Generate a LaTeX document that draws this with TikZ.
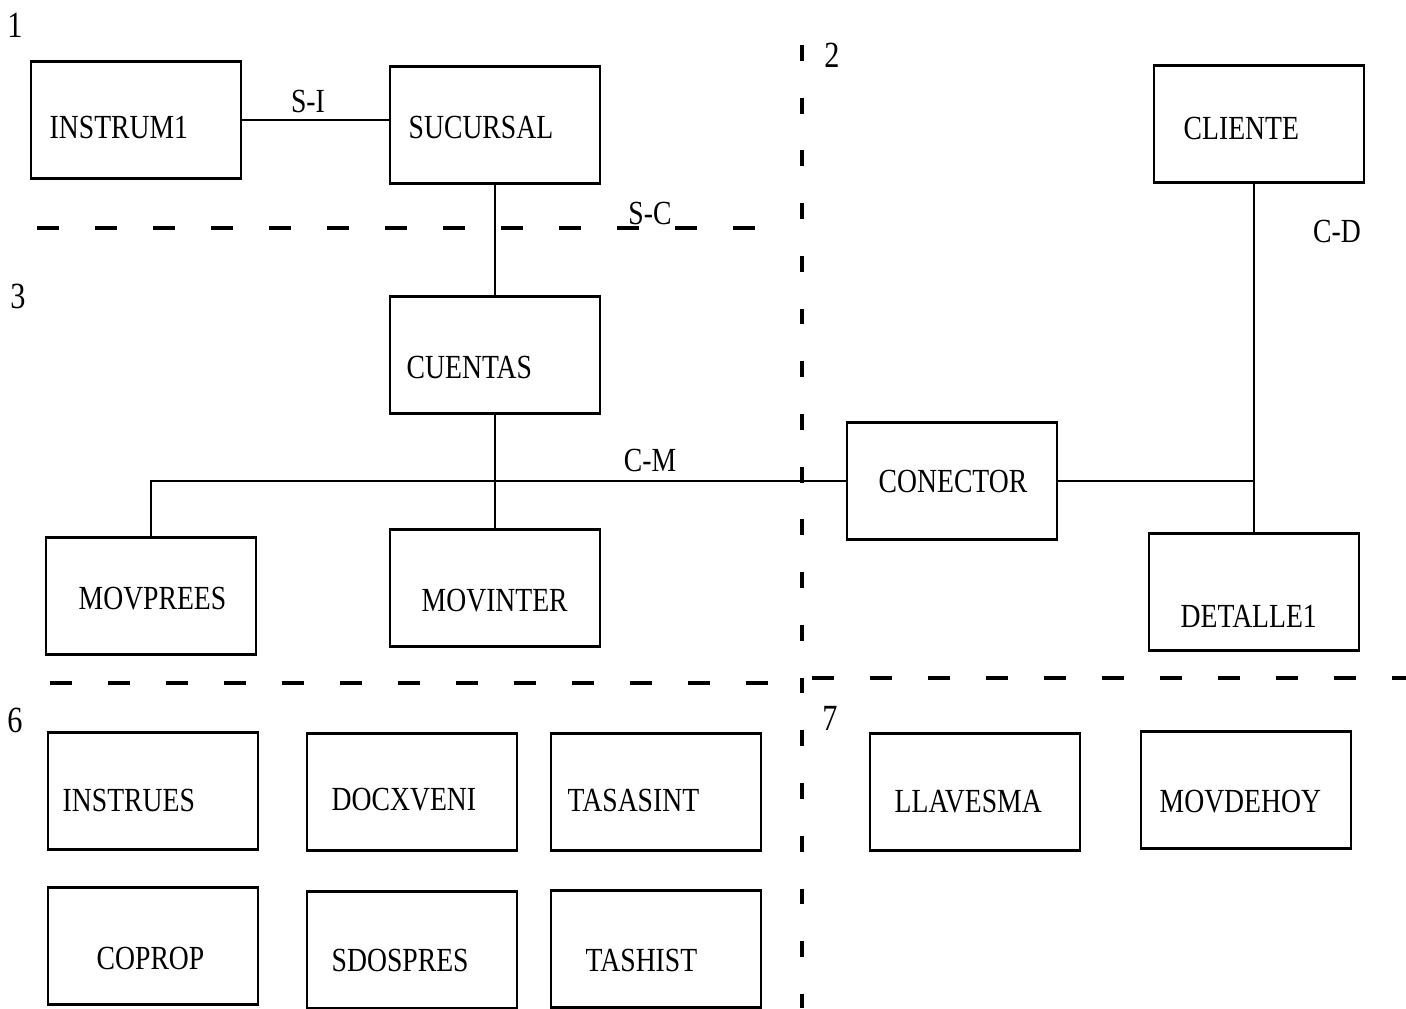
\documentclass[tikz,border=0pt]{standalone}
\usepackage{fontspec}
\setmainfont{Liberation Serif}[FakeStretch=0.82]

\begin{document}
\begin{tikzpicture}[x=0.1mm,y=-0.1mm,
  tabla/.style={draw,line width=0.8pt,minimum width=2.1cm,minimum height=1.17cm,inner sep=0pt},
  nombre/.style={anchor=west,inner sep=0pt,font=\fontsize{9.6}{11}\selectfont},
  etiq/.style={inner sep=0pt,font=\fontsize{9.6}{11}\selectfont},
  zona/.style={inner sep=0pt,font=\fontsize{10.5}{12}\selectfont},
  corte/.style={line width=0.9pt,dash pattern=on 6.3pt off 10.2pt},
  corteV/.style={line width=0.9pt,dash pattern=on 4.5pt off 10.5pt}]
  \useasboundingbox (0,0) rectangle (1406,1008);

  % tablas
  \node[tabla] (instrum1) at (136,120) {};
  \node[tabla] (sucursal) at (495,125) {};
  \node[tabla] (cliente)  at (1259,124) {};
  \node[tabla] (cuentas)  at (495,355) {};
  \node[tabla] (conector) at (952,481) {};
  \node[tabla] (movprees) at (151,596) {};
  \node[tabla] (movinter) at (495,588) {};
  \node[tabla] (detalle1) at (1254,592) {};
  \node[tabla] (instrues) at (153,791) {};
  \node[tabla] (docxveni) at (412,792) {};
  \node[tabla] (tasasint) at (656,792) {};
  \node[tabla] (llavesma) at (975,792) {};
  \node[tabla] (movdehoy) at (1246,790) {};
  \node[tabla] (coprop)   at (153,946) {};
  \node[tabla] (sdospres) at (412,950) {};
  \node[tabla] (tashist)  at (656,949) {};

  % nombres
  \node[nombre] (t1)  at (49,127)   {INSTRUM1};
  \node[nombre] (t2)  at (408,127)  {SUCURSAL};
  \node[nombre] (t3)  at (1183,128) {CLIENTE};
  \node[nombre] (t4)  at (406,367)  {CUENTAS};
  \node[nombre] (t5)  at (878,481)  {CONECTOR};
  \node[nombre] (t6)  at (78,599)   {MOVPREES};
  \node[nombre] (t7)  at (421,601)  {MOVINTER};
  \node[nombre] (t8)  at (1180,616) {DETALLE1};
  \node[nombre] (t9)  at (62,800)   {INSTRUES};
  \node[nombre] (t10) at (331,800)  {DOCXVENI};
  \node[nombre] (t11) at (567,800)  {TASASINT};
  \node[nombre] (t12) at (894,802)  {LLAVESMA};
  \node[nombre] (t13) at (1159,802) {MOVDEHOY};
  \node[nombre] (t14) at (96,958)   {COPROP};
  \node[nombre] (t15) at (331,960)  {SDOSPRES};
  \node[nombre] (t16) at (585,960)  {TASHIST};

  % zonas
  \node[zona] (z1) at (15,25)  {1};
  \node[zona] (z2) at (832,55) {2};
  \node[zona] (z3) at (18,296) {3};
  \node[zona] (z6) at (15,720) {6};
  \node[zona] (z7) at (830,718) {7};

  % cortes
  \draw[corte]  (37,228) -- (785,228);
  \draw[corteV] (802,45) -- (802,1008);
  \draw[corte]  (50,683) -- (790,683);
  \draw[corte]  (812,678) -- (1406,678);

  % relaciones
  \path[line width=0.8pt]
  (instrum1.east) edge (instrum1.east -| sucursal.west)
  (sucursal) edge (cuentas)
  (cuentas.south) edge (cuentas.south |- movinter.north)
  (detalle1.north) edge (detalle1.north |- cliente.south)
  (conector.east) edge (conector.east -| detalle1.north);
  \draw[line width=0.8pt] (movprees.north) |- (conector.west);

  \node[etiq] (si) at (308,101)  {S-I};
  \node[etiq] (sc) at (650,213)  {S-C};
  \node[etiq] (cm) at (650,460)  {C-M};
  \node[etiq] (cd) at (1337,231) {C-D};
\end{tikzpicture}
\end{document}
